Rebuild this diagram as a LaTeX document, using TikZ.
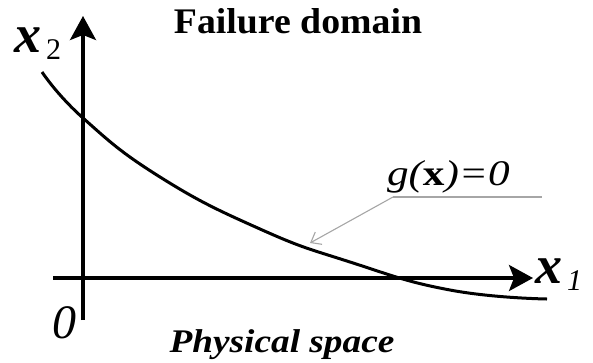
\documentclass[tikz,border=0pt]{standalone}
\usepackage{fontspec}
\setmainfont{Liberation Serif}
\usetikzlibrary{arrows.meta,positioning}

\begin{document}
\begin{tikzpicture}[x=1pt,y=-1pt,
  axis/.style={line width=3.3pt, -{Stealth[length=24pt,width=26pt,inset=5pt]}},
  curve/.style={line width=3pt},
  lead/.style={gray!70, line width=1.1pt},
  lbl/.style={inner sep=0pt, outer sep=0pt}
]
\useasboundingbox (0,0) rectangle (593,362);
% axes
\coordinate (x1s) at (53,278);
\coordinate (x1e) at (533,278);
\coordinate (x2s) at (83,320);
\coordinate (x2e) at (83,16);
\draw[axis] (x1s) -- (x1e);
\draw[axis] (x2s) -- (x2e);
\node[lbl, anchor=base west] (x1) at (535,283) {\fontsize{54}{54}\selectfont\bfseries\itshape x\fontsize{30}{30}\selectfont\mdseries\raisebox{-7pt}{\,1}};
\node[lbl, anchor=base west] (x2) at (14,52) {\fontsize{54}{54}\selectfont\bfseries\itshape x\fontsize{30}{30}\selectfont\mdseries\upshape\raisebox{-7pt}{\,2}};
\node[lbl, anchor=base west] (zero) at (52,338) {\fontsize{48}{48}\selectfont\itshape 0};
% limit state
\draw[curve] plot[smooth, tension=0.8] coordinates {(42,72) (83,118) (160,177) (260,229) (350,262) (450,290) (547,299)};
\coordinate (onc) at (310,243);
\node[lbl, anchor=base west, xscale=1.2] (g) at (387,185) {\fontsize{36}{36}\selectfont\itshape g(\textbf{\upshape x})=0};
\coordinate (gl) at (393,197);
\coordinate (gr) at (542,197);
\draw[lead] (gl) -- (gr);
\draw[lead, -{Straight Barb[length=9pt,width=14pt]}] (gl) -- (onc);
% titles
\node[lbl, anchor=base, xscale=1.05] (fail) at (298,33) {\fontsize{36}{36}\selectfont\bfseries Failure domain};
\node[lbl, anchor=base, xscale=1.13] (phys) at (282,352) {\fontsize{33}{33}\selectfont\bfseries\itshape Physical space};
\end{tikzpicture}
\end{document}
